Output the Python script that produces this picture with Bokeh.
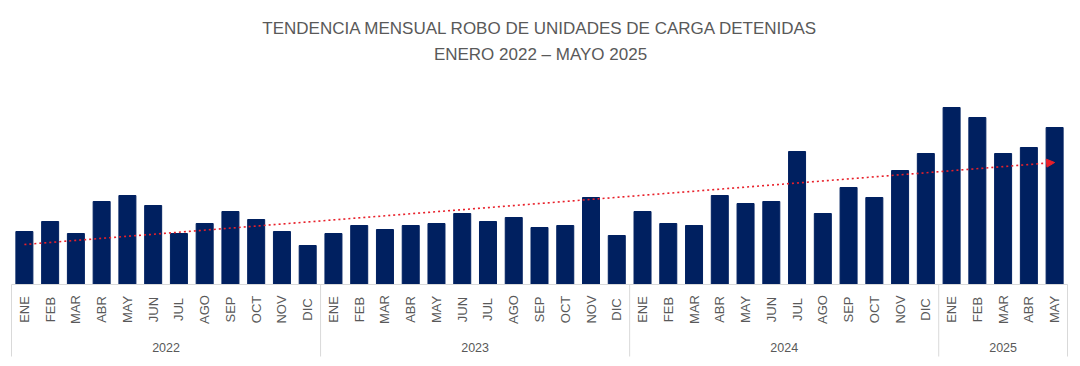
import numpy as np
from bokeh.plotting import figure
from bokeh.models import ColumnDataSource, Range1d, Title, Arrow, NormalHead
from bokeh.core.properties import value
from bokeh.embed import file_html
from bokeh.resources import INLINE

# ---------------- data ----------------
title_line1 = "TENDENCIA MENSUAL ROBO DE UNIDADES DE CARGA DETENIDAS"
title_line2 = "ENERO 2022 – MAYO 2025"
years = ["2022", "2023", "2024", "2025"]
month_names = ["ENE", "FEB", "MAR", "ABR", "MAY", "JUN", "JUL", "AGO", "SEP", "OCT", "NOV", "DIC"]
values_2022 = [53, 63, 51, 83, 89, 79, 51, 61, 73, 65, 53, 39]
values_2023 = [51, 59, 55, 59, 61, 71, 63, 67, 57, 59, 87, 49]
values_2024 = [73, 61, 59, 89, 81, 83, 133, 71, 97, 87, 114, 131]
values_2025 = [177, 167, 131, 137, 157]
trend_start = 40
trend_end = 122

# ---------------- build ----------------
year_values = [values_2022, values_2023, values_2024, values_2025]
months, vals, year_of = [], [], []
for y, v in zip(years, year_values):
    for i, val in enumerate(v):
        months.append(month_names[i])
        vals.append(val)
        year_of.append(y)
n = len(vals)
idx = list(range(n))

bounds = [-0.5]
centres = []
start = 0
for v in year_values:
    end = start + len(v)
    bounds.append(end - 0.5)
    centres.append((start + end - 1) / 2)
    start = end

# ---------------- layout ----------------
W, H = 1080, 366
frame_top = 68
cat_px = (1067 - 11) / n
x_start = -0.5 - 11 / cat_px
x_end = (n - 0.5) + (W - 1067) / cat_px

p = figure(width=W, height=H, output_backend="svg", toolbar_location=None,
           x_range=Range1d(x_start, x_end), y_range=Range1d(-82, 284 - frame_top),
           min_border_left=0, min_border_right=0, min_border_bottom=0,
           min_border_top=frame_top)
p.axis.visible = False
p.grid.visible = False
p.outline_line_color = None
p.background_fill_color = "white"
p.border_fill_color = "white"

font = "Liberation Sans"
grey = "#595959"
p.title.text = title_line1
p.title.align = "center"
p.title.text_font = font
p.title.text_font_size = "17px"
p.title.text_font_style = "normal"
p.title.text_color = grey
p.title.standoff = -1
p.add_layout(Title(text=title_line2, align="center", text_font=font, text_font_size="17px",
                   text_font_style="normal", text_color=grey, standoff=10), "above")

src = ColumnDataSource(dict(x=idx, top=vals, month=months, year=year_of))
p.vbar(x="x", top="top", bottom=0, width=0.66, source=src,
       fill_color="#002060", line_color="#002060")

line_col = "#d9d9d9"
p.segment(x0=[-0.5], y0=[0], x1=[n - 0.5], y1=[0], line_color=line_col, line_width=1)
p.segment(x0=bounds, y0=[0] * len(bounds), x1=bounds, y1=[-72] * len(bounds),
          line_color=line_col, line_width=1)

p.text(x="x", y=-25, text="month", source=src, angle=np.pi / 2,
       text_align="center", text_baseline="middle", text_font=value(font),
       text_font_size="13px", text_color=grey)
p.text(x=centres, y=[-63] * len(centres), text=years, text_align="center",
       text_baseline="middle", text_font=value(font), text_font_size="12.5px", text_color=grey)

red = "#e8202a"
p.add_layout(Arrow(x_start=idx[0], y_start=trend_start, x_end=idx[-1], y_end=trend_end,
                   line_color=red, line_width=1.6, line_dash="2 3",
                   end=NormalHead(size=8, fill_color=red, line_color=red)))

open("out.html", "w").write(file_html(p, INLINE))
